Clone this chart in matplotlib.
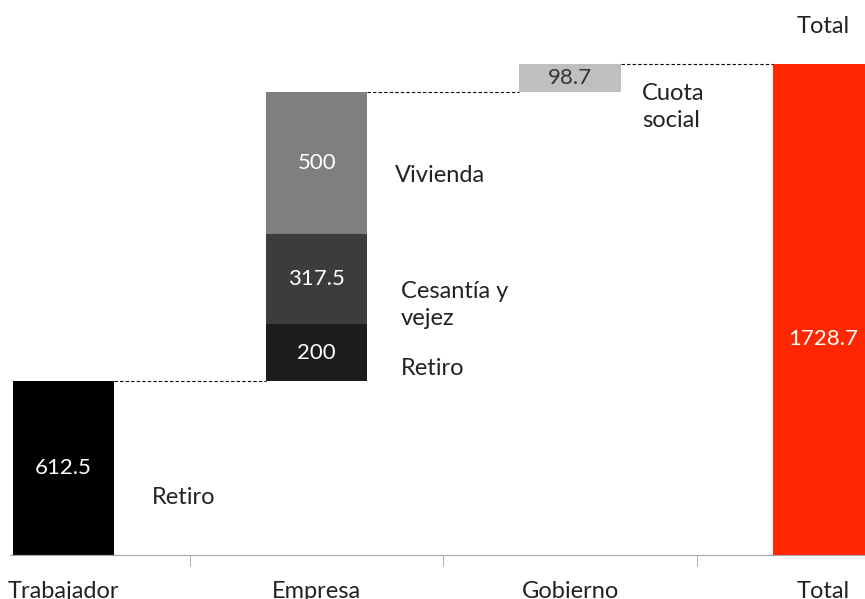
import matplotlib.pyplot as plt

# data
categories = ['Trabajador', 'Empresa', 'Gobierno', 'Total']
trabajador = [612.5]
empresa = [200, 317.5, 500]
empresa_names = ['Retiro', 'Cesantía y\nvejez', 'Vivienda']
gobierno = [98.7]
total = 1728.7

plt.rcParams['font.family'] = ['Lato', 'DejaVu Sans']

fig = plt.figure(figsize=(8.65, 5.99), dpi=100)
ax = fig.add_axes([10 / 865, 44 / 599, 1 - 10 / 865, 555 / 599])

w = 0.4
fs = 16     # numbers in bars
lfs = 17    # side labels / category names
tc = '#222222'

# Trabajador
ax.bar(0, trabajador[0], width=w, color='#000000')
ax.text(0, trabajador[0] / 2, '612.5', color='white', ha='center', va='center', fontsize=fs)
ax.text(0.35, trabajador[0] / 3, 'Retiro', color=tc, ha='left', va='center', fontsize=lfs)

# Empresa stack
emp_colors = ['#1c1c1c', '#3c3c3c', '#7f7f7f']
bottom = trabajador[0]
for v, c in zip(empresa, emp_colors):
    ax.bar(1, v, width=w, bottom=bottom, color=c)
    ax.text(1, bottom + v / 2, f'{v:g}', color='white', ha='center', va='center', fontsize=fs)
    bottom += v
emp_top = bottom
ax.text(1.333, 655, empresa_names[0], color=tc, ha='left', va='center', fontsize=lfs)
ax.text(1.333, 880, empresa_names[1], color=tc, ha='left', va='center', fontsize=lfs,
        linespacing=1.35)
ax.text(1.31, 1335, empresa_names[2], color=tc, ha='left', va='center', fontsize=lfs)

# Gobierno
ax.bar(2, gobierno[0], width=w, bottom=emp_top, color='#bfbfbf')
ax.text(2, emp_top + gobierno[0] / 2, f'{gobierno[0]:g}', color='#333333', ha='center', va='center', fontsize=fs)
ax.text(2.285, 1577, 'Cuota\nsocial', color=tc, ha='left', va='center', fontsize=lfs,
        linespacing=1.35)

# Total
ax.bar(3, total, width=w, color='#ff2600')
ax.text(3, total * 0.44, f'{total:g}', color='white', ha='center', va='center', fontsize=fs)
ax.text(3, 1859, 'Total', color=tc, ha='center', va='center', fontsize=lfs)

# connectors
levels = [trabajador[0], emp_top, emp_top + gobierno[0]]
for i, lv in enumerate(levels):
    ax.plot([i + w / 2, i + 1 - w / 2], [lv, lv], ls=(0, (3, 2)), color='black', lw=0.8)

ax.set_xlim(-0.21, 3.164)
ax.set_ylim(0, 1954)

for s in ['top', 'right', 'left']:
    ax.spines[s].set_visible(False)
ax.spines['bottom'].set_color('#a6a6a6')
ax.set_yticks([])
ax.set_xticks(range(len(categories)))
ax.set_xticklabels(categories, fontsize=lfs, color=tc)
ax.tick_params(axis='x', which='major', length=0, pad=19)
ax.set_xticks([0.5, 1.5, 2.5], minor=True)
ax.tick_params(axis='x', which='minor', length=8, color='#a6a6a6', direction='out')

fig.savefig('out.png', dpi=100)
